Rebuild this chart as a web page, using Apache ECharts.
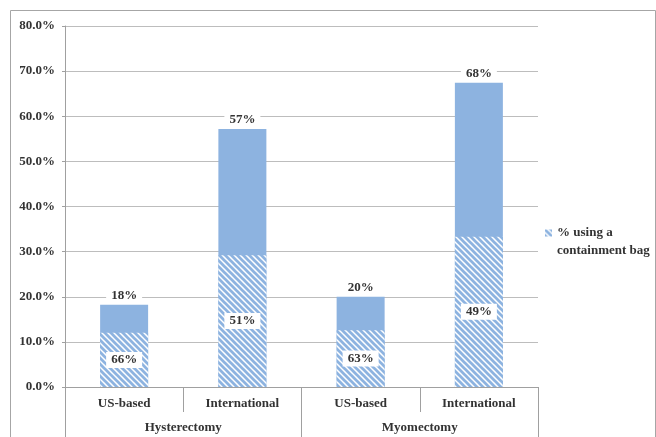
<!DOCTYPE html>
<html><head><meta charset="utf-8">
<script src="https://cdn.jsdelivr.net/npm/echarts@6/dist/echarts.min.js"></script>
<style>html,body{margin:0;padding:0;background:#fff}#c{width:656px;height:437px}</style>
</head><body><div id="c"></div>
<script>
var categories = ['US-based', 'International', 'US-based', 'International'];
var groups = ['Hysterectomy', 'Myomectomy'];
var totalValues = [18.2, 57.2, 20.0, 67.4];      // % of procedures (bar height)
var bagValues = [12.0, 29.2, 12.6, 33.3];        // hatched part: using a containment bag
var totalLabels = ['18%', '57%', '20%', '68%'];
var bagLabels = ['66%', '51%', '63%', '49%'];

var BLUE = '#8db3e0';
var FONT = 'Liberation Serif';

function hatch() {
  var s = 6, c = document.createElement('canvas');
  c.width = s; c.height = s;
  var g = c.getContext('2d');
  g.fillStyle = '#fff'; g.fillRect(0, 0, s, s);
  g.strokeStyle = BLUE; g.lineWidth = 2.7;
  for (var k = -1; k <= 1; k++) {
    g.beginPath(); g.moveTo(k * s - 1, -1); g.lineTo(k * s + s + 1, s + 1); g.stroke();
  }
  return c;
}
var pattern = { image: hatch(), repeat: 'repeat' };

var chart = echarts.init(document.getElementById('c'), null, { renderer: 'canvas' });
var labelBox = {
  show: true, color: '#333', fontFamily: FONT, fontWeight: 'bold', fontSize: 13,
  backgroundColor: '#fff', padding: [2, 5, 1, 5]
};
chart.setOption({
  animation: false,
  grid: { left: 65, right: 118, top: 26, bottom: 50 },
  graphic: [
    { type: 'polyline', shape: { points: [[10.5, 437], [10.5, 10.5], [655.5, 10.5], [655.5, 437]] },
      style: { fill: null, stroke: '#a6a6a6', lineWidth: 1 }, silent: true }
  ],
  legend: {
    data: ['% using a\ncontainment bag'],
    left: 540, top: 219, itemWidth: 7, itemHeight: 25, itemGap: 3,
    icon: 'path://M0,0L7,0L7,7L0,7Z M7,25L7,25Z',
    textStyle: { fontFamily: FONT, fontWeight: 'bold', fontSize: 13, color: '#333', lineHeight: 18 }
  },
  xAxis: [
    { type: 'category', data: categories, position: 'bottom',
      axisLine: { lineStyle: { color: '#a0a0a0' } },
      axisTick: { show: true, interval: 0, length: 25, lineStyle: { color: '#a0a0a0' } },
      axisLabel: { interval: 0, margin: 10, color: '#333', fontFamily: FONT, fontWeight: 'bold', fontSize: 13 } },
    { type: 'category', data: groups, position: 'bottom',
      axisLine: { show: false },
      axisTick: { show: true, interval: 0, length: 52, lineStyle: { color: '#a0a0a0' } },
      axisLabel: { interval: 0, margin: 34, color: '#333', fontFamily: FONT, fontWeight: 'bold', fontSize: 13 } }
  ],
  yAxis: {
    type: 'value', min: 0, max: 80, interval: 10,
    axisLine: { show: true, lineStyle: { color: '#a0a0a0' } },
    axisTick: { show: true, length: 3, lineStyle: { color: '#a0a0a0' } },
    splitLine: { lineStyle: { color: '#bdbdbd' } },
    axisLabel: { margin: 10, color: '#333', fontFamily: FONT, fontWeight: 'bold', fontSize: 13,
      formatter: function (v) { return v.toFixed(1) + '%'; } }
  },
  series: [
    { name: 'Total', type: 'bar', xAxisIndex: 0, data: totalValues, barWidth: 48, barGap: '-100%',
      itemStyle: { color: BLUE },
      label: Object.assign({}, labelBox, { position: 'top', distance: 2,
        formatter: function (p) { return totalLabels[p.dataIndex]; } }) },
    { name: '% using a\ncontainment bag', type: 'bar', xAxisIndex: 0, data: bagValues, barWidth: 48, barGap: '-100%',
      itemStyle: { color: pattern },
      label: Object.assign({}, labelBox, { position: 'inside',
        formatter: function (p) { return bagLabels[p.dataIndex]; } }) }
  ]
});
</script></body></html>
